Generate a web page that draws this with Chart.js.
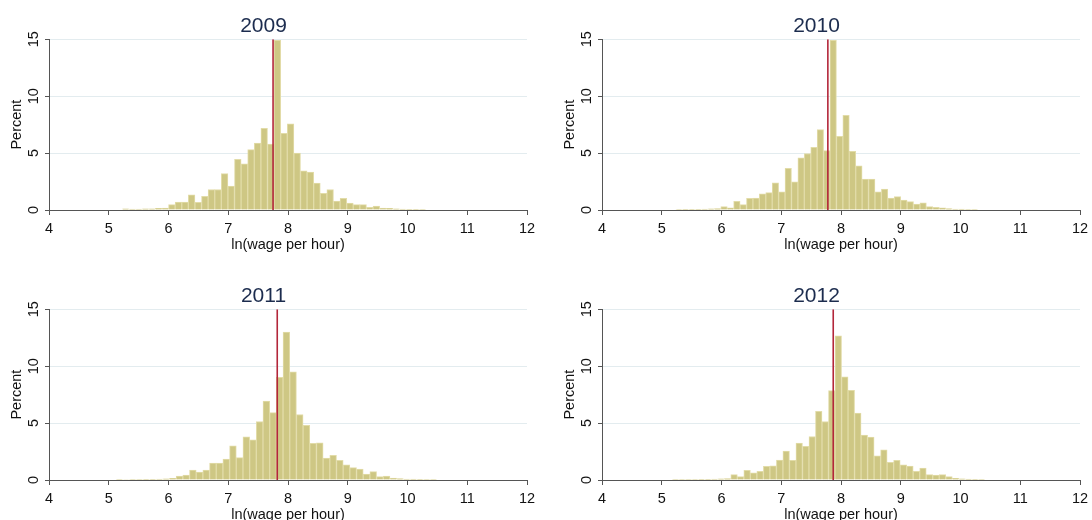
<!DOCTYPE html>
<html>
<head>
<meta charset="utf-8">
<script src="https://cdn.jsdelivr.net/npm/chart.js@4.4.1/dist/chart.umd.min.js"></script>
<style>
  html, body { margin:0; padding:0; background:#fff; overflow:hidden; }
  #wrap { position:relative; width:1092px; height:520px; }
  canvas { position:absolute; }
</style>
</head>
<body>
<div id="wrap">
  <canvas id="c2009" width="546" height="262" style="left:0px;top:0px;width:546px;height:262px"></canvas>
  <canvas id="c2010" width="546" height="262" style="left:553px;top:0px;width:546px;height:262px"></canvas>
  <canvas id="c2011" width="546" height="262" style="left:0px;top:270px;width:546px;height:262px"></canvas>
  <canvas id="c2012" width="546" height="262" style="left:553px;top:270px;width:546px;height:262px"></canvas>
</div>
<script>
// ---- Data ----
const years = ['2009', '2010', '2011', '2012'];
const xTickValues = [4, 5, 6, 7, 8, 9, 10, 11, 12];
const yTickValues = [0, 5, 10, 15];

// histogram bin start and width (ln wage per hour)
const binStart2009 = 5.228, binWidth2009 = 0.1104;
const binStart2010 = 5.236, binWidth2010 = 0.1075;
const binStart2011 = 5.122, binWidth2011 = 0.1118;
const binStart2012 = 5.175, binWidth2012 = 0.109;

// percent in each bin
const pct2009 = [0.10,0.08,0.08,0.10,0.10,0.15,0.17,
  0.47,0.70,0.70,1.34,0.67,1.20,1.80,1.80,3.20,2.10,4.46,4.06,5.30,5.87,7.18,5.80,14.9,6.74,7.56,5.00,3.44,3.33,2.36,1.46,1.80,0.79,1.02,0.61,0.47,0.47,0.23,0.35,0.17,0.15,0.10,
  0.08,0.06,0.06,0.05];
const pct2010 = [0.05,0.06,0.06,0.06,0.08,0.10,0.12,
  0.29,0.20,0.76,0.47,1.02,1.05,1.43,1.52,2.39,1.60,3.65,2.48,4.58,4.96,5.50,7.06,5.22,14.9,6.48,8.32,5.16,3.88,2.71,2.71,1.60,1.84,1.05,1.17,0.88,0.73,0.53,0.64,0.29,0.23,0.20,0.12,0.09,
  0.07,0.05,0.05];
const pct2011 = [0.05,0.04,0.05,0.05,0.06,0.06,0.08,0.10,
  0.15,0.35,0.44,0.88,0.70,0.88,1.49,1.49,1.84,3.00,1.96,3.79,3.53,5.14,6.94,5.92,9.02,12.99,9.51,5.75,4.81,3.21,3.27,1.93,2.16,1.72,1.34,1.08,0.96,0.53,0.73,0.29,0.35,0.17,0.12,0.09,
  0.07,0.06,0.05,0.05];
const pct2012 = [0.05,0.05,0.05,0.05,0.06,0.06,0.08,0.10,0.12,
  0.47,0.29,0.85,0.64,0.76,1.20,1.25,1.75,2.54,1.72,3.24,2.95,3.82,6.04,5.14,7.85,12.66,9.05,7.88,5.87,3.94,3.76,2.13,2.66,1.55,1.72,1.34,1.23,0.76,1.05,0.47,0.44,0.47,0.29,0.15,
  0.10,0.07,0.06,0.05];

// mean ln(wage) marked by vertical red line
const meanLines = [7.75, 7.78, 7.82, 7.87];

const panels = [
  { id:'c2009', year:years[0], start:binStart2009, width:binWidth2009, pct:pct2009, mean:meanLines[0] },
  { id:'c2010', year:years[1], start:binStart2010, width:binWidth2010, pct:pct2010, mean:meanLines[1] },
  { id:'c2011', year:years[2], start:binStart2011, width:binWidth2011, pct:pct2011, mean:meanLines[2] },
  { id:'c2012', year:years[3], start:binStart2012, width:binWidth2012, pct:pct2012, mean:meanLines[3] }
];

const FONT = "Arimo, 'Liberation Sans', Arial, sans-serif";
const AXIS_COLOR = '#555555';

panels.forEach(p => {
  const barData = p.pct.map((v, i) => ({ x: p.start + (i + 0.5) * p.width, y: v }));
  new Chart(document.getElementById(p.id), {
    type: 'bar',
    data: {
      datasets: [
        {
          type: 'line',
          data: [{ x: p.mean, y: 0 }, { x: p.mean, y: 15 }],
          borderColor: '#b3263a',
          borderWidth: 1.6,
          pointRadius: 0,
          order: 0
        },
        {
          type: 'bar',
          data: barData,
          backgroundColor: '#cec784',
          borderColor: '#e2dca8',
          borderWidth: 1,
          barPercentage: 1,
          categoryPercentage: 1,
          grouped: false,
          order: 1
        }
      ]
    },
    options: {
      responsive: false,
      animation: false,
      events: [],
      layout: { padding: { left: 0, right: 19, top: 0, bottom: 0 } },
      plugins: {
        legend: { display: false },
        tooltip: { enabled: false },
        title: {
          display: true,
          text: p.year,
          color: '#1c2c4e',
          font: { family: FONT, size: 21, weight: 'normal' },
          padding: { top: 14, bottom: 0 }
        }
      },
      scales: {
        x: {
          type: 'linear',
          min: 4, max: 12,
          offset: false,
          afterBuildTicks: s => { s.ticks = xTickValues.map(v => ({ value: v })); },
          afterFit: s => { s.height = 52; },
          ticks: { color: '#111', font: { family: FONT, size: 14.5 }, padding: 5, maxRotation: 0, minRotation: 0 },
          grid: { offset: false, drawOnChartArea: false, drawTicks: true, tickLength: 5, tickColor: AXIS_COLOR, color: AXIS_COLOR },
          border: { display: true, color: AXIS_COLOR, width: 1 },
          title: { display: true, text: 'ln(wage per hour)', color: '#111', font: { family: FONT, size: 14.5 }, padding: { top: 0, bottom: 8 } }
        },
        y: {
          type: 'linear',
          min: 0, max: 15,
          afterBuildTicks: s => { s.ticks = yTickValues.map(v => ({ value: v })); },
          afterFit: s => { s.width = 49; },
          ticks: { color: '#111', font: { family: FONT, size: 14.5 }, padding: 3, minRotation: 90, maxRotation: 90, crossAlign: 'center' },
          grid: { color: '#e3ecef', lineWidth: 1, drawTicks: true, tickLength: 4, tickColor: AXIS_COLOR },
          border: { display: true, color: AXIS_COLOR, width: 1 },
          title: { display: true, text: 'Percent', color: '#111', font: { family: FONT, size: 14.5 }, padding: { top: 8, bottom: 0 } }
        }
      }
    }
  });
});
</script>
</body>
</html>
